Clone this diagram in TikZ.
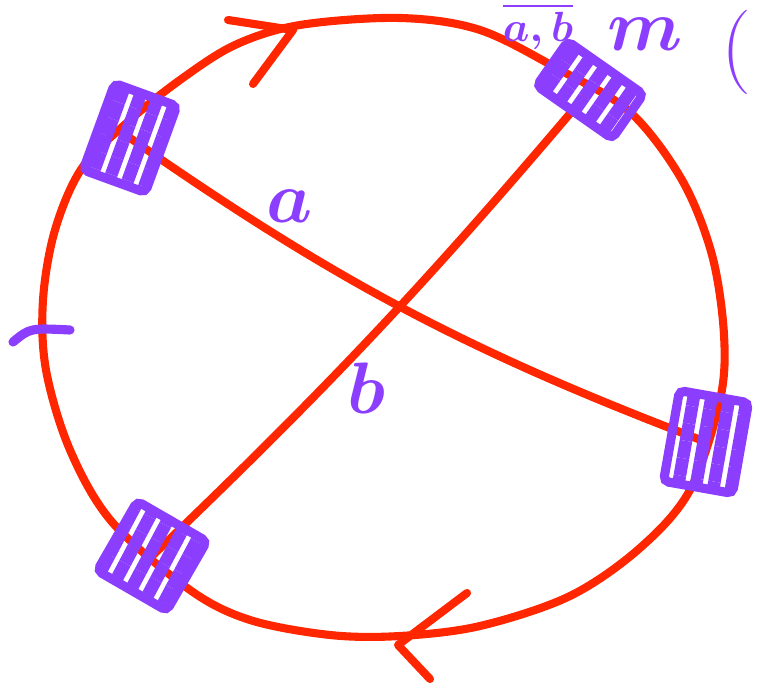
\documentclass[tikz,border=0pt]{standalone}
\usepackage{amsmath}
\usetikzlibrary{patterns.meta,positioning}
\definecolor{penred}{RGB}{255,38,0}
\definecolor{penpurple}{RGB}{140,62,255}
\tikzset{
  wire/.style={penred, line width=2.3pt, line cap=round, line join=round},
  pen/.style={penpurple, line width=2.6pt, line cap=round, line join=round},
  springbox/.style={draw=penpurple, line width=2.6pt, rounded corners=1.5pt, inner sep=0pt,
    pattern color=penpurple},
  hatch/.style={pattern={Lines[angle=#1, distance=5pt, line width=3.6pt]}},
  lbl/.style={penpurple, font=\fontsize{22}{24}\selectfont\boldmath, inner sep=0pt}
}
\begin{document}
\begin{tikzpicture}[x=0.01cm, y=-0.01cm]
  \path[use as bounding box, clip] (0,0) rectangle (761,686);
  % spring positions on the ring
  \coordinate (tl) at (130,138);
  \coordinate (tr) at (590,90);
  \coordinate (rt) at (706,442);
  \coordinate (bl) at (152,556);
  % ring
  \draw[wire] plot[smooth cycle, tension=0.55] coordinates {
    (130,120) (180,80) (235,45) (300,25) (400,18) (480,30) (560,70) (630,112)
    (682,180) (712,255) (724,335) (720,400) (690,490) (640,548) (570,596)
    (480,626) (400,636) (330,635) (250,620) (190,590) (112,522) (70,450)
    (46,370) (43,300) (55,230) (82,168)};
  % chords
  \draw[wire] (tl) to[bend right=7] (rt);
  \draw[wire] (bl) to[bend right=3] (tr);
  % direction arrows
  \coordinate (toptip) at (293,30);
  \coordinate (bottip) at (398,645);
  \draw[wire] (228,20) -- (toptip) -- (253,84);
  \draw[wire] (467,593) -- (bottip) -- (430,679);
  % springs
  \node[springbox, hatch=70, rotate=-20, minimum width=0.66cm, minimum height=0.92cm] (stl) at (tl) {};
  \node[springbox, hatch=55, rotate=-35, minimum width=0.92cm, minimum height=0.54cm] (str) at (tr) {};
  \node[springbox, hatch=80, rotate=-10, minimum width=0.7cm, minimum height=0.92cm] (srt) at (rt) {};
  \node[springbox, hatch=62, rotate=-30, minimum width=0.8cm, minimum height=0.8cm] (sbl) at (bl) {};
  % labels
  \node[lbl] (la) at (290,206) {$a$};
  \node[lbl] (lb) at (366,388) {$b$};
  \draw[pen] (13,342) .. controls (30,328) .. (70,330);
  \node[lbl, font=\fontsize{13}{14}\selectfont\boldmath, anchor=north] (ab) at (538,3) {$\overline{a,b}$};
  \node[lbl] (mm) at (645,34) {$m$};
  \node[lbl, font=\fontsize{24}{26}\selectfont] (br) at (736,52) {(};
\end{tikzpicture}
\end{document}
